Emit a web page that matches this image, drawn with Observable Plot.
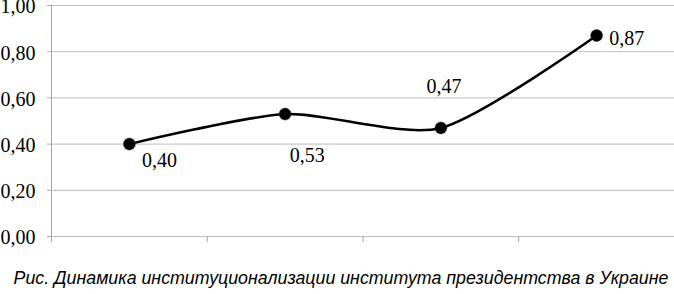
<!DOCTYPE html>
<html>
<head>
<meta charset="utf-8">
<script src="https://cdn.jsdelivr.net/npm/d3@7"></script>
<script src="https://cdn.jsdelivr.net/npm/@observablehq/plot@0.6"></script>
<style>
  html, body { margin: 0; padding: 0; background: #fff; }
  #chart svg { display: block; }
  #caption {
    font-family: "Liberation Sans", Arial, sans-serif;
    font-style: italic;
    font-size: 17.8px;
    line-height: 20px;
    text-align: center;
    padding-left: 8px;
    margin-top: 22px;
    color: #000;
    white-space: nowrap;
  }
</style>
</head>
<body>
<div id="chart"></div>
<div id="caption">Рис. Динамика институционализации института президентства в Украине</div>
<script>
// Data
const categories = ["1", "2", "3", "4"];
const values = [0.40, 0.53, 0.47, 0.87];
const valueLabels = ["0,40", "0,53", "0,47", "0,87"];
const yTicks = [0, 0.2, 0.4, 0.6, 0.8, 1.0];

const data = categories.map((c, i) => ({cat: c, idx: i + 0.5, value: values[i], label: valueLabels[i]}));
const boundaries = d3.range(categories.length + 1);

// label placement (dx, dy) per point
const placement = [[30, 16], [22, 42], [3, -41], [30, 3]];

const serif = "'Liberation Serif', 'Times New Roman', serif";
const gridColor = "#bdbdbd";
const axisColor = "#a6a6a6";

const plot = Plot.plot({
  width: 674,
  height: 246,
  marginLeft: 51,
  marginRight: 0,
  marginTop: 5,
  marginBottom: 10,
  style: {fontFamily: serif, fontSize: "20px", background: "#fff", overflow: "visible"},
  x: {type: "linear", domain: [0, categories.length], axis: null},
  y: {domain: [0, 1], axis: null},
  marks: [
    Plot.ruleY(yTicks, {stroke: gridColor, strokeWidth: 1}),
    Plot.ruleX([0], {stroke: axisColor, strokeWidth: 1}),
    Plot.axisX({ticks: boundaries, tickSize: 6, tickFormat: () => "", stroke: axisColor, anchor: "bottom", label: null}),
    Plot.axisY({ticks: yTicks, tickSize: 4, tickFormat: () => "", stroke: axisColor, anchor: "left", label: null}),
    Plot.axisY({ticks: yTicks, tickSize: 0, tickPadding: 16, fill: "#000",
      tickFormat: d => d.toFixed(2).replace(".", ","), fontSize: 20, anchor: "left", label: null, dy: 1.5}),
    Plot.line(data, {x: "idx", y: "value", curve: "cardinal", tension: 0.25, stroke: "#000", strokeWidth: 2.5}),
    Plot.dot(data, {x: "idx", y: "value", r: 6, fill: "#000", stroke: "#333", strokeWidth: 0.5}),
    ...data.map((d, i) => Plot.text([d], {x: "idx", y: "value", text: "label",
      dx: placement[i][0], dy: placement[i][1], fill: "#000", fontSize: 20}))
  ]
});
document.getElementById("chart").appendChild(plot);
</script>
</body>
</html>
